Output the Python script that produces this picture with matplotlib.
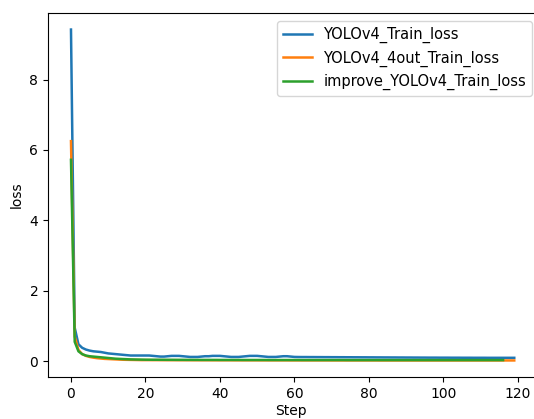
import matplotlib
matplotlib.use("Agg")
import matplotlib.pyplot as plt

labels = ["YOLOv4_Train_loss", "YOLOv4_4out_Train_loss", "improve_YOLOv4_Train_loss"]

yolov4_loss = [
    9.42, 0.95, 0.48, 0.38, 0.33, 0.30, 0.28, 0.27, 0.26, 0.24,
    0.22, 0.21, 0.20, 0.19, 0.18, 0.17, 0.16, 0.16, 0.16, 0.16,
    0.16, 0.16, 0.15, 0.14, 0.13, 0.13, 0.14, 0.15, 0.15, 0.15,
    0.14, 0.13, 0.12, 0.12, 0.12, 0.13, 0.14, 0.14, 0.15, 0.15,
    0.15, 0.14, 0.13, 0.12, 0.12, 0.12, 0.13, 0.14, 0.15, 0.15,
    0.15, 0.14, 0.13, 0.12, 0.12, 0.12, 0.13, 0.14, 0.14, 0.13,
    0.12, 0.118, 0.117, 0.117, 0.116, 0.116, 0.115, 0.115, 0.114, 0.114,
    0.113, 0.113, 0.112, 0.112, 0.111, 0.111, 0.110, 0.110, 0.109, 0.109,
    0.108, 0.108, 0.107, 0.107, 0.106, 0.106, 0.105, 0.105, 0.104, 0.104,
    0.103, 0.103, 0.102, 0.102, 0.101, 0.101, 0.100, 0.100, 0.100, 0.099,
    0.099, 0.099, 0.098, 0.098, 0.098, 0.097, 0.097, 0.097, 0.096, 0.096,
    0.096, 0.096, 0.095, 0.095, 0.095, 0.095, 0.095, 0.095, 0.095, 0.095,
]

yolov4_4out_loss = [
    6.25, 0.70, 0.32, 0.20, 0.15, 0.12, 0.10, 0.085, 0.075, 0.065,
    0.060, 0.055, 0.050, 0.045, 0.040, 0.038, 0.036, 0.034, 0.032, 0.030,
    0.030, 0.030, 0.029, 0.029, 0.029, 0.028, 0.028, 0.028, 0.028, 0.027,
    0.027, 0.027, 0.027, 0.026, 0.026, 0.026, 0.026, 0.026, 0.025, 0.025,
    0.025, 0.025, 0.025, 0.025, 0.024, 0.024, 0.024, 0.024, 0.024, 0.024,
    0.024, 0.023, 0.023, 0.023, 0.023, 0.023, 0.023, 0.023, 0.023, 0.022,
    0.022, 0.022, 0.022, 0.022, 0.022, 0.022, 0.022, 0.022, 0.022, 0.022,
    0.021, 0.021, 0.021, 0.021, 0.021, 0.021, 0.021, 0.021, 0.021, 0.021,
    0.021, 0.021, 0.021, 0.020, 0.020, 0.020, 0.020, 0.020, 0.020, 0.020,
    0.020, 0.020, 0.020, 0.020, 0.020, 0.020, 0.020, 0.020, 0.020, 0.020,
    0.020, 0.020, 0.020, 0.020, 0.020, 0.020, 0.020, 0.020, 0.020, 0.020,
    0.020, 0.020, 0.020, 0.020, 0.020, 0.020, 0.020, 0.020, 0.020, 0.020,
]

improve_loss = [
    5.72, 0.55, 0.28, 0.20, 0.16, 0.14, 0.13, 0.12, 0.11, 0.10,
    0.090, 0.080, 0.070, 0.065, 0.060, 0.055, 0.050, 0.048, 0.046, 0.044,
    0.042, 0.041, 0.040, 0.040, 0.039, 0.039, 0.038, 0.038, 0.037, 0.037,
    0.037, 0.036, 0.036, 0.036, 0.036, 0.035, 0.035, 0.035, 0.035, 0.035,
    0.034, 0.034, 0.034, 0.034, 0.034, 0.034, 0.033, 0.033, 0.033, 0.033,
    0.033, 0.033, 0.033, 0.032, 0.032, 0.032, 0.032, 0.032, 0.032, 0.032,
    0.032, 0.032, 0.031, 0.031, 0.031, 0.031, 0.031, 0.031, 0.031, 0.031,
    0.031, 0.031, 0.031, 0.031, 0.030, 0.030, 0.030, 0.030, 0.030, 0.030,
    0.030, 0.030, 0.030, 0.030, 0.030, 0.030, 0.030, 0.030, 0.030, 0.030,
    0.030, 0.030, 0.030, 0.030, 0.030, 0.030, 0.030, 0.030, 0.030, 0.030,
    0.030, 0.030, 0.030, 0.030, 0.030, 0.030, 0.030, 0.030, 0.030, 0.030,
    0.030, 0.030, 0.030, 0.030, 0.030, 0.030, 0.030,
]

fig = plt.figure(figsize=(5.34, 4.19), dpi=100)
W, H = 534, 419
left, right, top, bottom = 48, 534, 13, 377
ax = fig.add_axes([left / W, 1 - bottom / H, (right - left) / W, (bottom - top) / H])

ax.plot(range(len(yolov4_loss)), yolov4_loss, label=labels[0], color="#1f77b4", lw=1.8)
ax.plot(range(len(yolov4_4out_loss)), yolov4_4out_loss, label=labels[1], color="#ff7f0e", lw=1.8)
ax.plot(range(len(improve_loss)), improve_loss, label=labels[2], color="#2ca02c", lw=1.8)

ax.spines["right"].set_visible(False)
ax.set_xlim(-6.17, 124.3)
ax.set_xlabel("Step", fontsize=10, labelpad=2)
ax.set_ylabel("loss", fontsize=10)
ax.set_xticks([0, 20, 40, 60, 80, 100, 120])
ax.set_yticks([0, 2, 4, 6, 8])
ax.tick_params(labelsize=10)
ax.legend(loc="upper right", fontsize=10.5, bbox_to_anchor=(0.996, 0.978), borderaxespad=0)

fig.savefig("out.png", dpi=100)
